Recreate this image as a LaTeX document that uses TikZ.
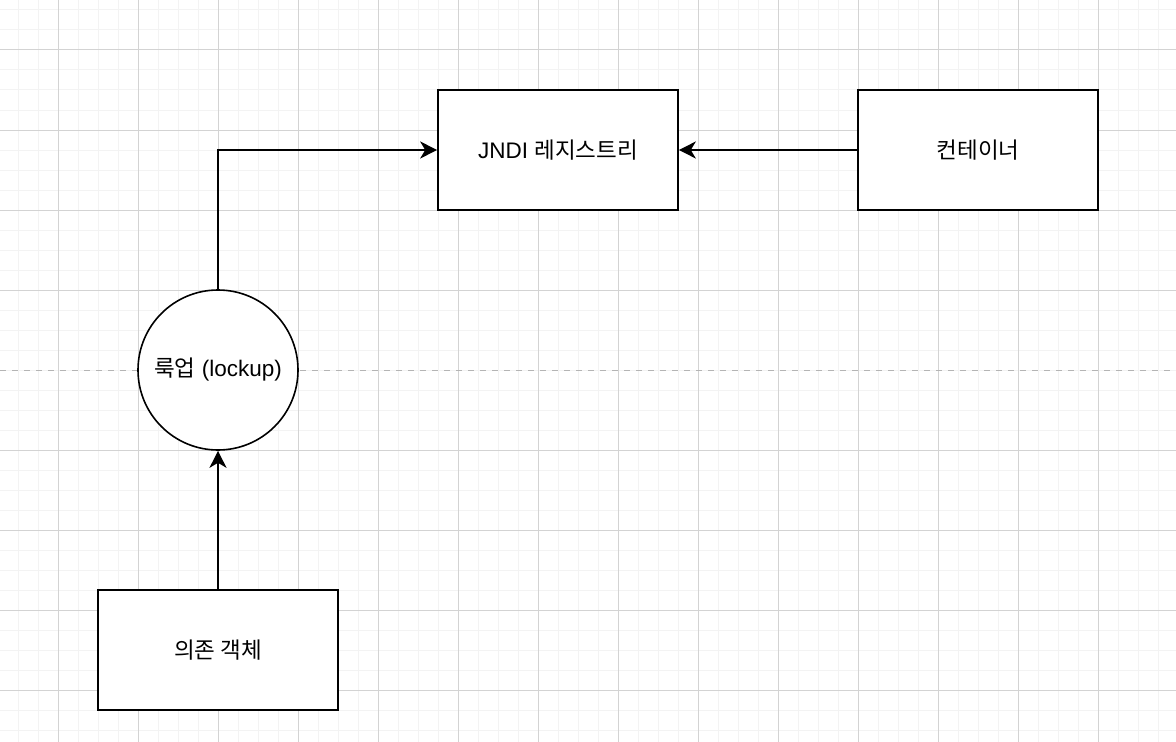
\documentclass[tikz,border=0pt]{standalone}
\usepackage{fontspec}
\setmainfont{Liberation Sans}
\newfontfamily\kr{Noto Sans CJK KR}
\usetikzlibrary{arrows.meta}
\definecolor{minorgrid}{HTML}{F3F3F3}
\definecolor{majorgrid}{HTML}{D3D3D3}
\definecolor{pagebreak}{HTML}{B4B4B4}
\tikzset{
  box/.style={draw=black, line width=1.6bp, fill=white, minimum width=240bp, minimum height=120bp, inner sep=0pt, font=\fontsize{22.5bp}{26bp}\selectfont},
  circnode/.style={draw=black, line width=1.6bp, fill=white, circle, minimum size=160bp, inner sep=0pt, font=\fontsize{22.5bp}{26bp}\selectfont},
  conn/.style={draw=black, line width=1.6bp, -{Stealth[length=17bp,width=17bp,inset=5bp]}},
}
\begin{document}
\begin{tikzpicture}[x=1bp,y=-1bp]
\useasboundingbox (0,0) rectangle (1176,742);
\fill[white] (0,0) rectangle (1176,742);
% minor grid
\foreach \gx in {18,38,...,1176} \draw[minorgrid, line width=1bp] (\gx,0) -- (\gx,742);
\foreach \gy in {10,30,...,742} \draw[minorgrid, line width=1bp] (0,\gy) -- (1176,\gy);
% major grid
\foreach \gx in {58,138,...,1176} \draw[majorgrid, line width=1bp] (\gx,0) -- (\gx,742);
\foreach \gy in {50,130,210,290,450,530,610,690} \draw[majorgrid, line width=1bp] (0,\gy) -- (1176,\gy);
% page break
\draw[pagebreak, line width=1.2bp, dash pattern=on 6bp off 6bp] (0,370.5) -- (1176,370.5);
% nodes
\node[box] (jndi) at (558,150) {JNDI {\kr 레지스트리}};
\node[box] (cont) at (978,150) {\kr 컨테이너};
\node[circnode] (look) at (218,370) {{\kr 룩업} (lockup)};
\node[box] (dep) at (218,650) {\kr 의존 객체};
% connectors
\draw[conn] (dep.north) -- (look.south);
\draw[conn] (look.north) |- (jndi.west);
\draw[conn] (cont.west) -- (jndi.east);
\end{tikzpicture}
\end{document}
